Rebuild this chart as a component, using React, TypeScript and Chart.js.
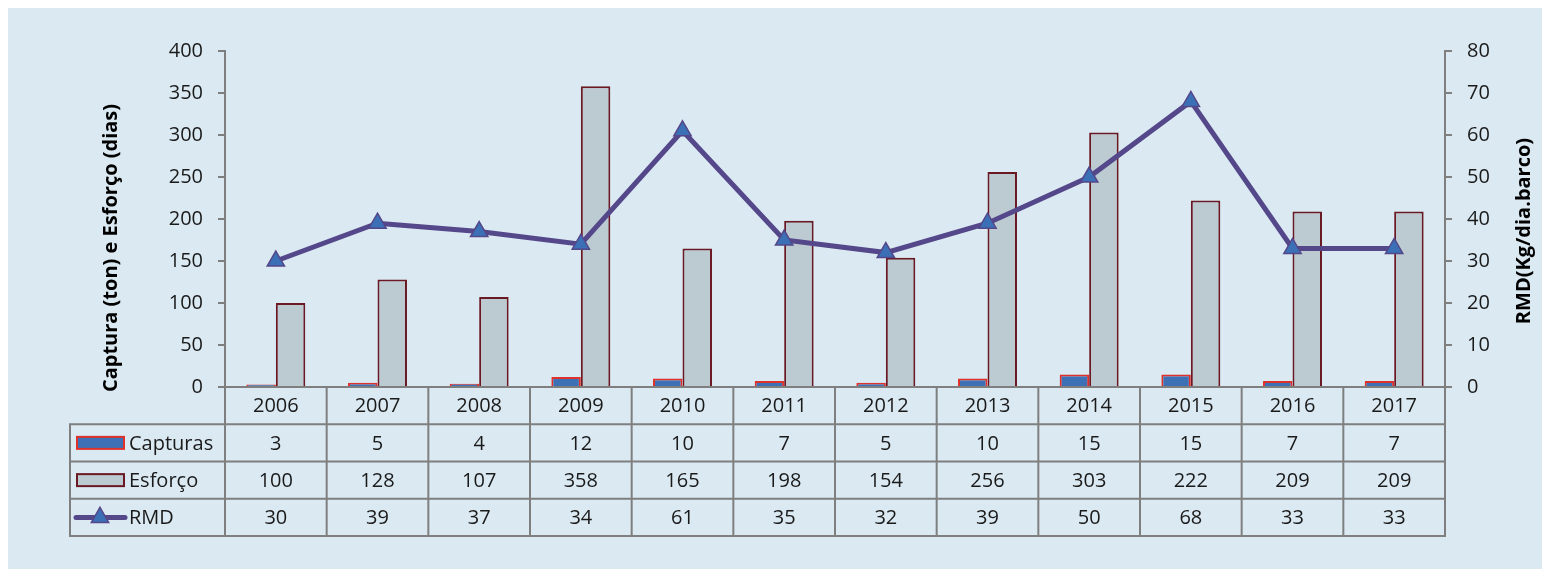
import { useEffect, useRef } from "react";
import { Chart, registerables } from "chart.js";

Chart.register(...registerables);

const years = ["2006", "2007", "2008", "2009", "2010", "2011", "2012", "2013", "2014", "2015", "2016", "2017"];
const capturas = [3, 5, 4, 12, 10, 7, 5, 10, 15, 15, 7, 7];
const esforco = [100, 128, 107, 358, 165, 198, 154, 256, 303, 222, 209, 209];
const rmd = [30, 39, 37, 34, 61, 35, 32, 39, 50, 68, 33, 33];

const seriesNames = ["Capturas", "Esforço", "RMD"];
const leftTitle = "Captura (ton) e Esforço (dias)";
const rightTitle = "RMD(Kg/dia.barco)";

const FONT = "'Open Sans', 'DejaVu Sans', sans-serif";
const BG = "#dae9f2";
const GRID = "#7f7f7f";
const TEXT = "#1a1a1a";
const CAP_FILL = "#3d70b5";
const CAP_BORDER = "#e0302a";
const ESF_FILL = "#bccad1";
const ESF_BORDER = "#6a1822";
const RMD_LINE = "#54478a";
const RMD_POINT = "#3b6fb6";

const W = 1534;
const H = 561;

const tablePlugin = {
  id: "tablePlugin",
  beforeDraw(chart: any) {
    const { ctx } = chart;
    ctx.save();
    ctx.fillStyle = BG;
    ctx.fillRect(0, 0, chart.width, chart.height);
    ctx.restore();
  },
  afterDraw(chart: any) {
    const { ctx, chartArea } = chart;
    const x = chart.scales.x;
    const top = chartArea.bottom;
    const bottom = 528;
    const rowH = (bottom - top) / 4;
    const legendLeft = 62;
    const n = years.length;
    const catW = (chartArea.right - chartArea.left) / n;

    ctx.save();
    ctx.strokeStyle = GRID;
    ctx.lineWidth = 2;
    ctx.beginPath();
    for (let i = 0; i <= n; i++) {
      const px = chartArea.left + i * catW;
      ctx.moveTo(px, top);
      ctx.lineTo(px, bottom);
    }
    ctx.moveTo(legendLeft, top + rowH - 1);
    ctx.lineTo(legendLeft, bottom + 1);
    for (let r = 1; r <= 4; r++) {
      const py = top + r * rowH;
      ctx.moveTo(legendLeft - 1, py);
      ctx.lineTo(chartArea.right + 1, py);
    }
    ctx.stroke();

    ctx.fillStyle = TEXT;
    ctx.font = `20px ${FONT}`;
    ctx.textAlign = "center";
    ctx.textBaseline = "middle";
    const rows = [capturas, esforco, rmd];
    for (let i = 0; i < n; i++) {
      const cx = x.getPixelForValue(i);
      ctx.fillText(years[i], cx, top + rowH / 2 + 1);
      rows.forEach((vals, r) => {
        ctx.fillText(String(vals[i]), cx, top + (r + 1.5) * rowH + 1);
      });
    }

    // legend keys
    ctx.textAlign = "left";
    for (let r = 0; r < 3; r++) {
      const cy = top + (r + 1.5) * rowH;
      if (r < 2) {
        ctx.fillStyle = r === 0 ? CAP_FILL : ESF_FILL;
        ctx.strokeStyle = r === 0 ? CAP_BORDER : ESF_BORDER;
        ctx.lineWidth = 2;
        ctx.fillRect(69, cy - 6, 47, 12);
        ctx.strokeRect(69, cy - 6, 47, 12);
      } else {
        ctx.strokeStyle = RMD_LINE;
        ctx.lineWidth = 5;
        ctx.lineCap = "round";
        ctx.beginPath();
        ctx.moveTo(68, cy);
        ctx.lineTo(117, cy);
        ctx.stroke();
        ctx.beginPath();
        const tr = 10;
        ctx.moveTo(92, cy - tr);
        ctx.lineTo(92 + tr * 0.866, cy + tr * 0.5);
        ctx.lineTo(92 - tr * 0.866, cy + tr * 0.5);
        ctx.closePath();
        ctx.fillStyle = RMD_POINT;
        ctx.fill();
        ctx.strokeStyle = RMD_LINE;
        ctx.lineWidth = 1.5;
        ctx.stroke();
      }
      ctx.fillStyle = TEXT;
      ctx.fillText(seriesNames[r], 121, cy + 1);
    }

    // axis titles
    ctx.font = `bold 20px ${FONT}`;
    ctx.fillStyle = "#000";
    ctx.textAlign = "center";
    ctx.textBaseline = "middle";
    ctx.save();
    ctx.translate(103, 240);
    ctx.rotate(-Math.PI / 2);
    ctx.fillText(leftTitle, 0, 0);
    ctx.restore();
    ctx.save();
    ctx.translate(1516, 223);
    ctx.rotate(-Math.PI / 2);
    ctx.fillText(rightTitle, 0, 0);
    ctx.restore();

    ctx.restore();
  },
};

export default function App() {
  const ref = useRef<HTMLCanvasElement | null>(null);

  useEffect(() => {
    if (!ref.current) return;
    Chart.defaults.font.family = FONT;
    const chart = new Chart(ref.current, {
      type: "bar",
      data: {
        labels: years,
        datasets: [
          {
            type: "bar",
            label: seriesNames[0],
            data: capturas,
            backgroundColor: CAP_FILL,
            borderColor: CAP_BORDER,
            borderWidth: 2,
            yAxisID: "y",
            order: 1,
            categoryPercentage: 0.58,
            barPercentage: 1,
          },
          {
            type: "bar",
            label: seriesNames[1],
            data: esforco,
            backgroundColor: ESF_FILL,
            borderColor: ESF_BORDER,
            borderWidth: 2,
            yAxisID: "y",
            order: 1,
            categoryPercentage: 0.58,
            barPercentage: 1,
          },
          {
            type: "line",
            label: seriesNames[2],
            data: rmd,
            borderColor: RMD_LINE,
            borderWidth: 5,
            tension: 0,
            pointStyle: "triangle",
            pointRadius: 10,
            pointBackgroundColor: RMD_POINT,
            pointBorderColor: RMD_LINE,
            pointBorderWidth: 1.5,
            yAxisID: "y1",
            order: 0,
          } as any,
        ],
      },
      options: {
        responsive: false,
        animation: false,
        layout: { padding: { top: 43, bottom: 33, left: 0, right: 0 } },
        plugins: {
          legend: { display: false },
          tooltip: { enabled: false },
          title: { display: false },
        },
        scales: {
          x: {
            grid: { display: false },
            ticks: { display: false },
            border: { display: true, color: GRID, width: 2 },
            afterFit: (s: any) => {
              s.height = 149;
            },
          },
          y: {
            position: "left",
            min: 0,
            max: 400,
            ticks: { stepSize: 50, color: TEXT, font: { size: 20 }, padding: 15 },
            grid: { drawOnChartArea: false, drawTicks: true, tickLength: 7, color: GRID, lineWidth: 2 },
            border: { display: true, color: GRID, width: 2 },
            afterFit: (s: any) => {
              s.width = 217;
            },
          },
          y1: {
            position: "right",
            min: 0,
            max: 80,
            ticks: { stepSize: 10, color: TEXT, font: { size: 20 }, padding: 15 },
            grid: { drawOnChartArea: false, drawTicks: true, tickLength: 7, color: GRID, lineWidth: 2 },
            border: { display: true, color: GRID, width: 2 },
            afterFit: (s: any) => {
              s.width = 97;
            },
          },
        },
      },
      plugins: [tablePlugin],
    });
    return () => chart.destroy();
  }, []);

  return <canvas ref={ref} width={W} height={H} style={{ display: "block" }} />;
}
